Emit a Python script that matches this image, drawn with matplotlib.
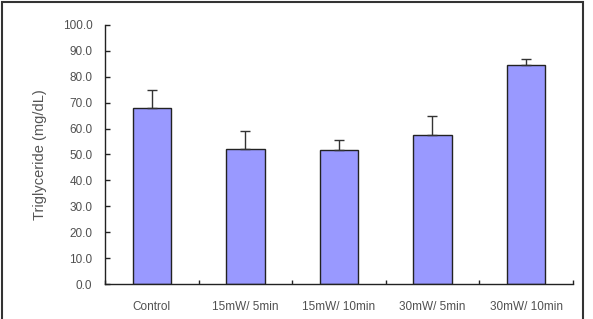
"""
Triglyceride bar chart
"""
import numpy as np
import matplotlib.pyplot as plt
from matplotlib.patches import Rectangle

groups = ['Control', '15mW/ 5min', '15mW/ 10min', '30mW/ 5min', '30mW/ 10min']
means = [68.0, 52.2, 51.8, 57.6, 84.6]
errors = [7.0, 6.8, 3.7, 7.4, 2.3]

plt.rcParams['font.family'] = ['Liberation Sans', 'DejaVu Sans']

fig = plt.figure(figsize=(5.93, 3.19), dpi=100)
ax = fig.add_axes([0.177, 0.1097, 0.789, 0.812])

x = np.arange(len(groups))
ax.bar(x, means, width=0.41, color='#9999ff', edgecolor='#222222', linewidth=1.0,
       zorder=2)
ax.errorbar(x, means, yerr=[np.zeros(len(errors)), errors], fmt='none',
            ecolor='#333333', elinewidth=1.0, capsize=3.5, capthick=1.0, zorder=3)

ax.set_xlim(-0.5, len(groups) - 0.5)
ax.set_ylim(0, 100)
ax.set_yticks(np.arange(0, 101, 10))
ax.set_yticklabels([f'{v:.1f}' for v in np.arange(0, 101, 10)])
ax.set_xticks(np.arange(-0.5, len(groups), 1.0))
ax.set_xticklabels([])
ax.set_xticks(x, minor=True)
ax.set_xticklabels(groups, minor=True)

ax.tick_params(axis='y', direction='in', length=3.5, width=1.0, pad=9,
               labelsize=8.5, labelcolor='#505050', color='#222222')
ax.tick_params(axis='x', which='major', direction='in', length=3, width=1.0,
               color='#222222')
ax.tick_params(axis='x', which='minor', length=0, pad=12, labelsize=8.5,
               labelcolor='#505050')

for s in ['top', 'right']:
    ax.spines[s].set_visible(False)
for s in ['left', 'bottom']:
    ax.spines[s].set_color('#222222')
    ax.spines[s].set_linewidth(1.0)

ax.set_ylabel('Triglyceride (mg/dL)', fontsize=10.5, color='#555555', labelpad=11)

# outer chart frame
fig.patches.append(Rectangle((1.5 / 593, -0.1), 581 / 593, 1.1 - 1.5 / 319,
                             transform=fig.transFigure, fill=False,
                             edgecolor='#333333', linewidth=1.5, clip_on=False))

plt.savefig('out.png', dpi=100)
